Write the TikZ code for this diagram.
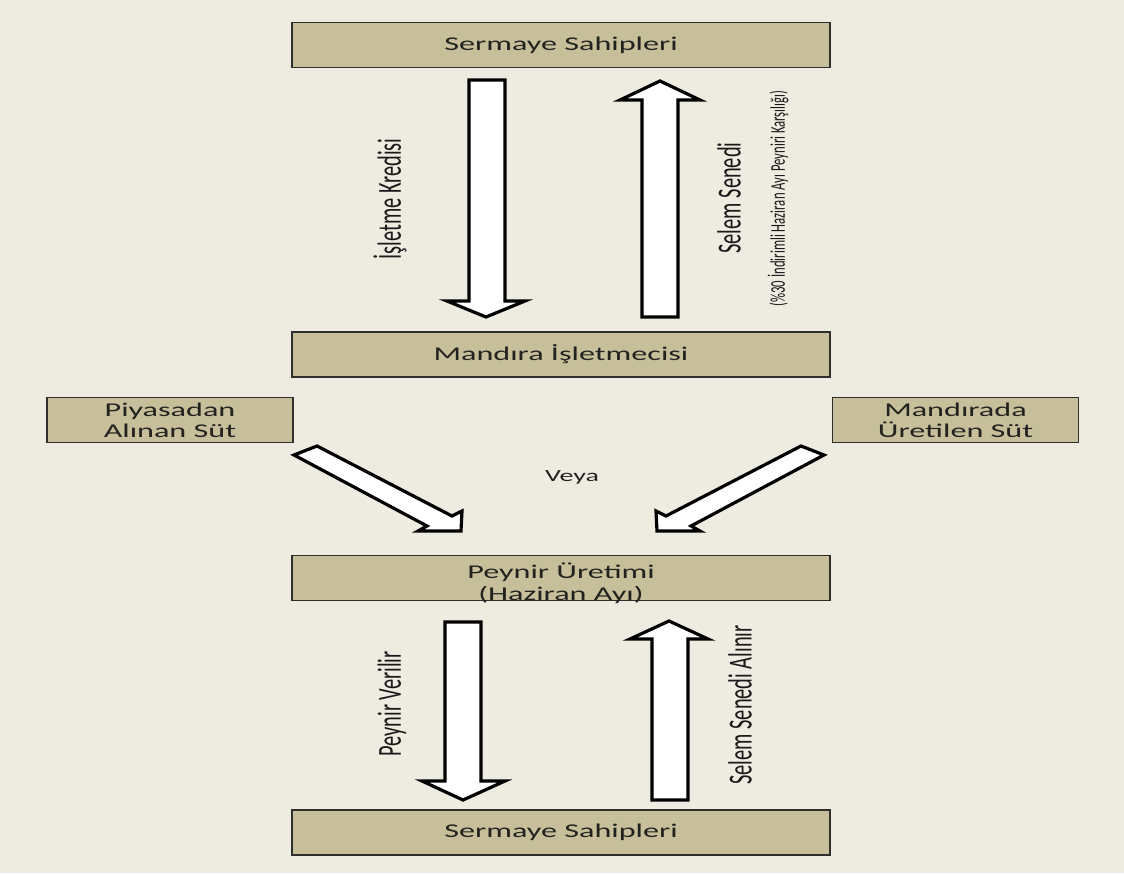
\documentclass[tikz,border=0pt]{standalone}
\usepackage{fontspec}
\setmainfont{Carlito}
\usepackage{graphicx}
\definecolor{bg}{HTML}{EEEBE1}
\definecolor{boxfill}{HTML}{C6BF9A}
\definecolor{boxline}{HTML}{2E2E2C}
\definecolor{txt}{HTML}{222220}
\newcommand{\hstr}[1]{\scalebox{1.65}[1]{#1}}
\newcommand{\vstr}[1]{\scalebox{1}[1.65]{#1}}
\begin{document}
\begin{tikzpicture}[x=1pt,y=-1pt,
  box/.style={draw=boxline, line width=1.6pt, fill=boxfill, minimum width=538pt,
    minimum height=45pt, inner sep=0pt, text=txt,
    font=\fontsize{19.5}{21}\selectfont, align=center},
  sidebox/.style={box, minimum width=246pt},
  boxtext/.style={inner sep=0pt, text=txt, font=\fontsize{19.5}{22}\selectfont, align=center},
  blockarrow/.style={draw=black, fill=white, line width=3.2pt, line join=miter},
  vlabel/.style={rotate=90, inner sep=0pt, text=black!90,
    font=\fontsize{20.4}{24}\selectfont},
  smalllabel/.style={vlabel, font=\fontsize{12.7}{15}\selectfont},
  plain/.style={inner sep=0pt, text=txt, font=\fontsize{17}{20}\selectfont}]
\useasboundingbox (0,0) rectangle (1124,873);
\fill[bg] (0,0) rectangle (1124,873);

% boxes
\node[box] (top) at (561,45) {\hstr{Sermaye Sahipleri}};
\node[box] (mandira) at (561,354.5) {\hstr{Mandıra İşletmecisi}};
\node[sidebox] (piyasa) at (170,420) {\hstr{Piyasadan}\\\hstr{Alınan Süt}};
\node[sidebox] (mandirada) at (955.5,420) {\hstr{Mandırada}\\\hstr{Üretilen Süt}};
\node[box] (peynir) at (561,578) {};
\node[boxtext] (peynirtext) at (561,583) {\hstr{Peynir Üretimi}\\\hstr{(Haziran Ayı)}};
\node[box] (bottom) at (561,832.5) {\hstr{Sermaye Sahipleri}};

% vertical block arrows
\draw[blockarrow] (469,80) -- (505,80) -- (505,301) -- (525,301) -- (486,317)
  -- (447,301) -- (469,301) -- cycle;
\draw[blockarrow] (642,317) -- (678,317) -- (678,100) -- (700,100) -- (660,81)
  -- (620,100) -- (642,100) -- cycle;
\draw[blockarrow] (445,622) -- (481,622) -- (481,781) -- (505,781) -- (463,800)
  -- (422,781) -- (445,781) -- cycle;
\draw[blockarrow] (652,800) -- (688,800) -- (688,639) -- (708,639) -- (669,621)
  -- (630,639) -- (652,639) -- cycle;

% diagonal block arrows
\draw[blockarrow] (294,455) -- (317,446) -- (452,516) -- (462,511) -- (461,531)
  -- (418,531) -- (427,526) -- cycle;
\draw[blockarrow] (824,455) -- (801,446) -- (666,516) -- (656,511) -- (657,531)
  -- (700,531) -- (691,526) -- cycle;

% labels
\node[vlabel] (kredi) at (390,199) {\vstr{İşletme Kredisi}};
\node[vlabel] (selem) at (729,198) {\vstr{Selem Senedi}};
\node[smalllabel] (indirim) at (778,198.5) {\vstr{(\%30 İndirimli Haziran Ayı Peyniri Karşılığı)}};
\node[plain] (veya) at (572,477) {\hstr{Veya}};
\node[vlabel] (verilir) at (392,704) {\vstr{Peynir Verilir}};
\node[vlabel] (alinir) at (740,705) {\vstr{Selem Senedi Alınır}};
\end{tikzpicture}
\end{document}
